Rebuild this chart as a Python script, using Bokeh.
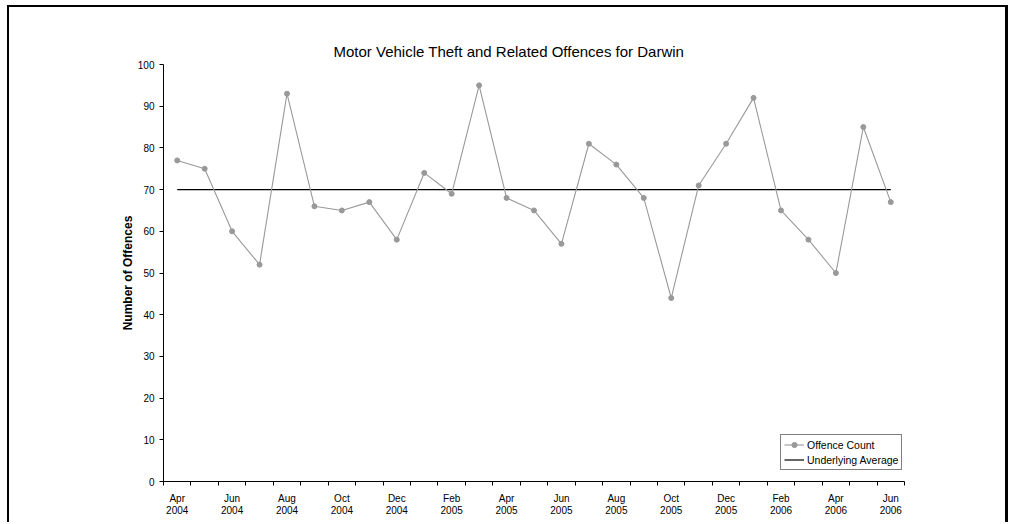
from bokeh.plotting import figure
from bokeh.models import (Range1d, FixedTicker, Legend, LegendItem, Title)
from bokeh.embed import file_html
from bokeh.resources import INLINE

# ---- data ----
months = ["Apr 2004", "May 2004", "Jun 2004", "Jul 2004", "Aug 2004", "Sep 2004",
          "Oct 2004", "Nov 2004", "Dec 2004", "Jan 2005", "Feb 2005", "Mar 2005",
          "Apr 2005", "May 2005", "Jun 2005", "Jul 2005", "Aug 2005", "Sep 2005",
          "Oct 2005", "Nov 2005", "Dec 2005", "Jan 2006", "Feb 2006", "Mar 2006",
          "Apr 2006", "May 2006", "Jun 2006"]
offence_count = [77, 75, 60, 52, 93, 66, 65, 67, 58, 74, 69, 95, 68, 65, 57, 81,
                 76, 68, 44, 71, 81, 92, 65, 58, 50, 85, 67]
underlying_average = [70] * len(months)
y_ticks = [0, 10, 20, 30, 40, 50, 60, 70, 80, 90, 100]

FONT = "Liberation Sans"
GREY = "#999999"

x = list(range(len(months)))

p = figure(width=1001, height=517, output_backend="svg", toolbar_location=None,
           x_range=Range1d(-0.5, len(months) - 0.5), y_range=Range1d(0, 100),
           min_border_left=154, min_border_right=106, min_border_top=57,
           min_border_bottom=43, background_fill_color="white",
           border_fill_color="white")
p.styles = {"border-top": "2px solid black", "border-left": "2px solid black",
            "border-right": "3px solid black", "margin-left": "7px",
            "margin-top": "5px"}
p.outline_line_color = None
p.xgrid.visible = False
p.ygrid.visible = False

title = Title(text="Motor Vehicle Theft and Related Offences for Darwin",
              align="left", offset=170, text_font=FONT, text_font_size="15px",
              text_font_style="normal", text_color="black", standoff=9)
p.add_layout(title, "above")

# series
avg_r = p.line(x, underlying_average, line_color="black", line_width=1.2)
cnt_line = p.line(x, offence_count, line_color=GREY, line_width=1.1)
cnt_pts = p.scatter(x, offence_count, marker="circle", size=5,
                    fill_color=GREY, line_color=GREY)

# x axis
xa = p.xaxis[0]
xa.ticker = FixedTicker(ticks=[i for i in x if i % 2 == 0],
                        minor_ticks=[i - 0.5 for i in range(len(months) + 1)])
xa.major_label_overrides = {i: months[i].replace(" ", "\n") for i in x if i % 2 == 0}
xa.major_tick_out = 0
xa.major_tick_in = 0
xa.minor_tick_out = 4
xa.minor_tick_in = 0
xa.minor_tick_line_color = "black"
xa.axis_line_color = "black"
xa.axis_line_width = 1
xa.major_label_text_font = FONT
xa.major_label_text_font_size = "10px"
xa.major_label_text_color = "black"
xa.major_label_text_line_height = 1.1
xa.major_label_standoff = 7

# y axis
ya = p.yaxis[0]
ya.ticker = FixedTicker(ticks=y_ticks)
ya.major_tick_out = 4
ya.major_tick_in = 0
ya.minor_tick_out = 0
ya.minor_tick_in = 0
ya.major_tick_line_color = "black"
ya.axis_line_color = "black"
ya.axis_line_width = 1
ya.major_label_text_font = FONT
ya.major_label_text_font_size = "10px"
ya.major_label_text_color = "black"
ya.major_label_standoff = 5
ya.axis_label = "Number of Offences"
ya.axis_label_text_font = FONT
ya.axis_label_text_font_size = "12px"
ya.axis_label_text_font_style = "bold"
ya.axis_label_text_color = "black"
ya.axis_label_standoff = 0

legend = Legend(items=[LegendItem(label="Offence Count", renderers=[cnt_line, cnt_pts]),
                       LegendItem(label="Underlying Average", renderers=[avg_r])],
                location=(617, 11))
legend.label_text_font = FONT
legend.label_text_font_size = "10.5px"
legend.label_text_color = "black"
legend.border_line_color = "black"
legend.border_line_width = 1
legend.background_fill_color = "white"
legend.background_fill_alpha = 1
legend.padding = 3
legend.spacing = 2
legend.margin = 0
legend.glyph_width = 20
legend.glyph_height = 13
legend.label_height = 13
legend.label_standoff = 3
p.add_layout(legend, "center")

open("out.html", "w").write(file_html(p, INLINE))
